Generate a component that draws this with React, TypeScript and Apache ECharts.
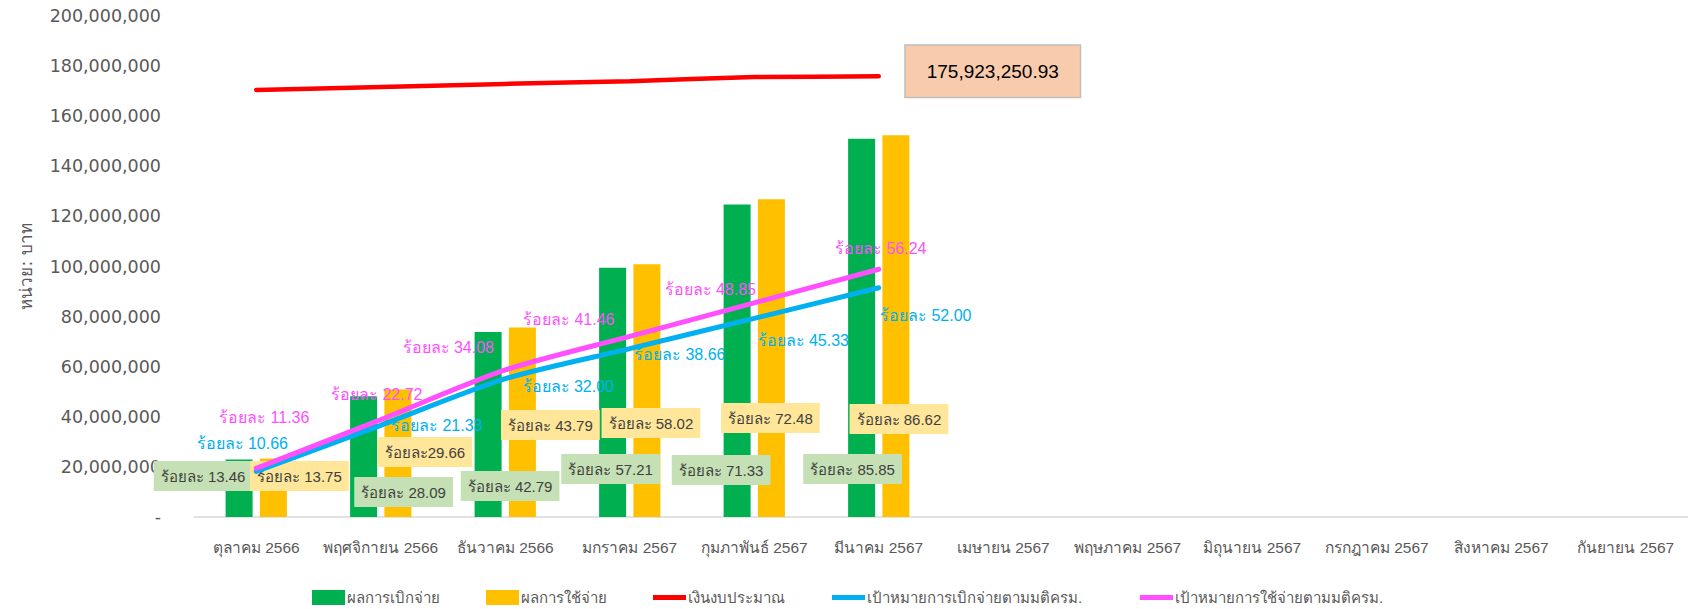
import React, { useEffect, useRef } from "react";
import * as echarts from "echarts";

// ---------- data ----------
const months = [
  "ตุลาคม 2566",
  "พฤศจิกายน 2566",
  "ธันวาคม 2566",
  "มกราคม 2567",
  "กุมภาพันธ์ 2567",
  "มีนาคม 2567",
  "เมษายน 2567",
  "พฤษภาคม 2567",
  "มิถุนายน 2567",
  "กรกฎาคม 2567",
  "สิงหาคม 2567",
  "กันยายน 2567",
];

const seriesNames = [
  "ผลการเบิกจ่าย",
  "ผลการใช้จ่าย",
  "เงินงบประมาณ",
  "เป้าหมายการเบิกจ่ายตามมติครม.",
  "เป้าหมายการใช้จ่ายตามมติครม.",
];

// baht (Oct 2566 .. Mar 2567)
const disburseValues = [22950000, 48200000, 73900000, 99500000, 124800000, 151000000];
const spendValues = [23400000, 50900000, 75600000, 100900000, 126800000, 152400000];
const budgetValues = [170460000, 171700000, 172900000, 174000000, 175600000, 175923250.93];
const disburseTargetValues = [18200000, 36600000, 55200000, 67200000, 79300000, 91500000];
const spendTargetValues = [19400000, 38900000, 58700000, 72100000, 85500000, 98900000];

// percentage labels
const disburseLabels = ["ร้อยละ 13.46", "ร้อยละ 28.09", "ร้อยละ 42.79", "ร้อยละ 57.21", "ร้อยละ 71.33", "ร้อยละ 85.85"];
const spendLabels = ["ร้อยละ 13.75", "ร้อยละ29.66", "ร้อยละ 43.79", "ร้อยละ 58.02", "ร้อยละ 72.48", "ร้อยละ 86.62"];
const disburseTargetLabels = ["ร้อยละ 10.66", "ร้อยละ 21.33", "ร้อยละ 32.00", "ร้อยละ 38.66", "ร้อยละ 45.33", "ร้อยละ 52.00"];
const spendTargetLabels = ["ร้อยละ 11.36", "ร้อยละ 22.72", "ร้อยละ 34.08", "ร้อยละ 41.46", "ร้อยละ 48.85", "ร้อยละ 56.24"];
const budgetLabel = "175,923,250.93";

const yAxisName = "หน่วย: บาท";

// ---------- label placement (style, px offsets) ----------
const disburseLabelOffsets = [[-36, -41], [40, -25], [22, -31], [-2, -48], [-16, -47], [-9, -48]];
const spendLabelOffsets = [[26, -41], [27, -65], [28, -92], [4, -94], [-1, -99], [3, -98]];
const disburseTargetOffsets = [[-14, -28], [56, 0], [63, 8], [50, 6], [49, 22], [47, 28]];
const spendTargetOffsets = [[8, -51], [-4, -25], [-57, -22], [-61, -17], [-44, -13], [2, -21]];
const budgetCalloutOffset = [114, -5];

const legendLefts = [307, 481, 648, 827, 1135];

const FONT = '"DejaVu Sans", Tahoma, sans-serif';
const LABEL_FONT = '"Liberation Sans", Tahoma, sans-serif';

export default function App() {
  const ref = useRef<HTMLDivElement>(null);

  useEffect(() => {
    document.body.style.margin = "0";
    if (!ref.current) return;
    const chart = echarts.init(ref.current, undefined, { renderer: "svg" });

    const barLabelBase = {
      show: true,
      position: ["50%", "100%"],
      align: "center",
      verticalAlign: "middle",
      color: "#404040",
      fontSize: 15,
      fontFamily: LABEL_FONT,
      padding: [8, 7, 7, 7],
    };

    const greenData = disburseValues.map((v, i) => ({
      value: v,
      label: { ...barLabelBase, backgroundColor: "#C5E0B4", offset: disburseLabelOffsets[i], formatter: disburseLabels[i] },
    }));
    const yellowData = spendValues.map((v, i) => ({
      value: v,
      label: { ...barLabelBase, backgroundColor: "#FFE699", offset: spendLabelOffsets[i], formatter: spendLabels[i] },
    }));

    const lineLabelBase = {
      show: true,
      position: "inside",
      fontSize: 16,
      fontFamily: LABEL_FONT,
    };

    const blueData = disburseTargetValues.map((v, i) => ({
      value: v,
      label: { ...lineLabelBase, color: "#00B0F0", offset: disburseTargetOffsets[i], formatter: disburseTargetLabels[i] },
    }));
    const pinkData = spendTargetValues.map((v, i) => ({
      value: v,
      label: { ...lineLabelBase, color: "#FF4FFF", offset: spendTargetOffsets[i], formatter: spendTargetLabels[i] },
    }));
    const redData = budgetValues.map((v, i) =>
      i === budgetValues.length - 1
        ? {
            value: v,
            label: {
              show: true,
              position: "inside",
              offset: budgetCalloutOffset,
              formatter: budgetLabel,
              backgroundColor: "#F8CBAD",
              borderColor: "#BFBFBF",
              borderWidth: 1.5,
              padding: [16, 21, 16, 21],
              color: "#000000",
              fontSize: 19,
              fontFamily: '"Liberation Sans", Arial, sans-serif',
            },
          }
        : v
    );

    const lineCommon = {
      type: "line",
      smooth: 0.25,
      symbol: "circle",
      symbolSize: 1,
      showSymbol: true,
      z: 3,
    };

    const legendColors = ["#00B050", "#FFC000", "#FF0000", "#00B0F0", "#FF4FFF"];
    const legends = seriesNames.map((name, i) => ({
      show: true,
      left: legendLefts[i],
      top: 585,
      orient: "horizontal",
      itemWidth: 33,
      itemHeight: i < 2 ? 15 : 5,
      itemGap: 0,
      icon: "rect",
      textStyle: { color: "#595959", fontSize: 15, fontFamily: LABEL_FONT, padding: [0, 0, 0, -3] },
      data: [{ name, icon: "rect", itemStyle: { color: legendColors[i] } }],
    }));

    chart.setOption({
      animation: false,
      grid: { left: 194, right: 0, top: 16, bottom: 92, containLabel: false },
      legend: legends,
      xAxis: {
        type: "category",
        data: months,
        axisLine: { show: true, lineStyle: { color: "#D9D9D9", width: 1.5 } },
        axisTick: { show: false },
        axisLabel: { interval: 0, color: "#595959", fontSize: 15.5, fontFamily: LABEL_FONT, margin: 22 },
        splitLine: { show: false },
      },
      yAxis: {
        type: "value",
        min: 0,
        max: 200000000,
        interval: 20000000,
        name: yAxisName,
        nameLocation: "middle",
        nameRotate: 90,
        nameGap: 160,
        nameTextStyle: { color: "#595959", fontSize: 17, fontFamily: FONT },
        axisLine: { show: false },
        axisTick: { show: false },
        splitLine: { show: false },
        axisLabel: {
          color: "#595959",
          fontSize: 17.5,
          fontFamily: FONT,
          margin: 33,
          formatter: (v: number) => (v === 0 ? "-" : v.toLocaleString("en-US")),
        },
      },
      series: [
        {
          name: seriesNames[0],
          type: "bar",
          data: greenData,
          barWidth: 27,
          barGap: "27%",
          itemStyle: { color: "#00B050" },
          z: 2,
        },
        {
          name: seriesNames[1],
          type: "bar",
          data: yellowData,
          barWidth: 27,
          barGap: "27%",
          itemStyle: { color: "#FFC000" },
          z: 2,
        },
        {
          ...lineCommon,
          name: seriesNames[2],
          data: redData,
          smooth: 0.15,
          itemStyle: { color: "#FF0000" },
          lineStyle: { color: "#FF0000", width: 4.5, cap: "round" },
        },
        {
          ...lineCommon,
          name: seriesNames[3],
          data: blueData,
          itemStyle: { color: "#00B0F0" },
          lineStyle: { color: "#00B0F0", width: 5, cap: "round" },
        },
        {
          ...lineCommon,
          name: seriesNames[4],
          data: pinkData,
          itemStyle: { color: "#FF4FFF" },
          lineStyle: { color: "#FF4FFF", width: 5, cap: "round" },
        },
      ],
    });

    return () => chart.dispose();
  }, []);

  return <div ref={ref} style={{ width: 1688, height: 609 }} />;
}
